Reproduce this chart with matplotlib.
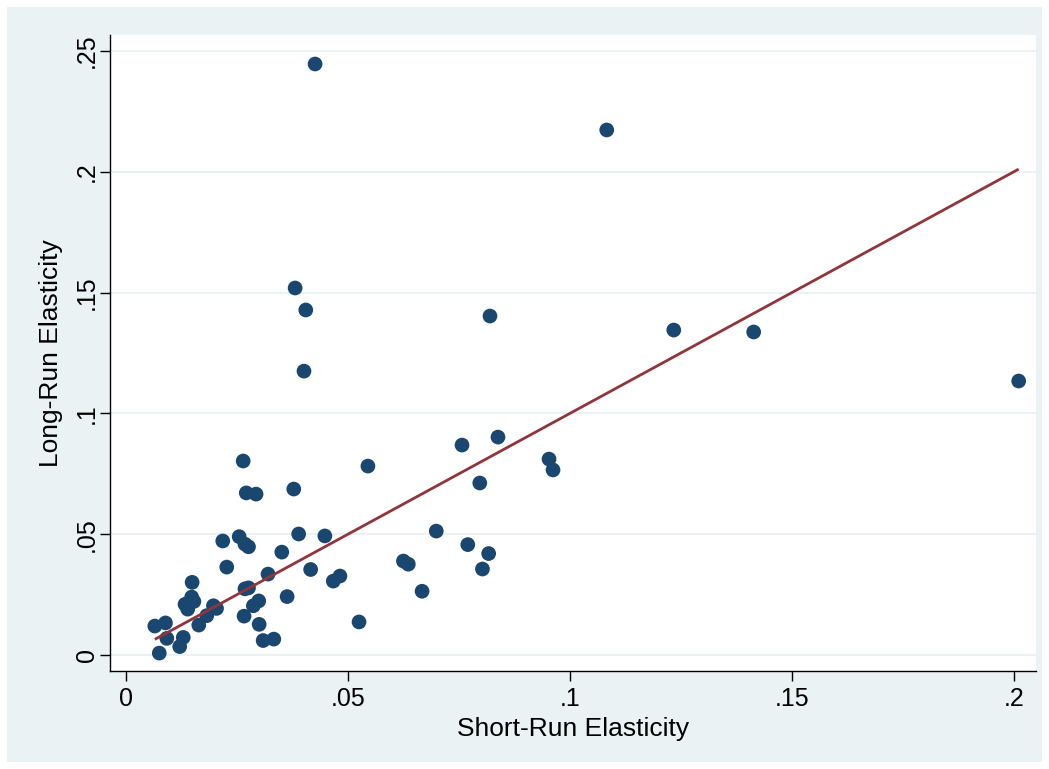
import numpy as np
import matplotlib
matplotlib.use("Agg")
import matplotlib.pyplot as plt
from matplotlib.patches import Rectangle

# Data
short_run = [0.0426, 0.1083, 0.0381, 0.0405, 0.0820, 0.1234, 0.1414, 0.0401, 0.2011,
             0.0838, 0.0757, 0.0953, 0.0962, 0.0264, 0.0545, 0.0797, 0.0378, 0.0271,
             0.0293, 0.0699, 0.0389, 0.0448, 0.0255, 0.0218, 0.0268, 0.0276, 0.0770,
             0.0817, 0.0351, 0.0625, 0.0636, 0.0227, 0.0416, 0.0803, 0.0320, 0.0482,
             0.0467, 0.0149, 0.0667, 0.0268, 0.0276, 0.0148, 0.0153, 0.0133, 0.0139,
             0.0363, 0.0299, 0.0287, 0.0197, 0.0204, 0.0182, 0.0164, 0.0266, 0.0065,
             0.0089, 0.0525, 0.0300, 0.0092, 0.0129, 0.0309, 0.0333, 0.0121, 0.0075]
long_run = [0.2446, 0.2173, 0.1519, 0.1428, 0.1403, 0.1345, 0.1337, 0.1175, 0.1134,
            0.0902, 0.0869, 0.0811, 0.0766, 0.0803, 0.0782, 0.0712, 0.0687, 0.0671,
            0.0666, 0.0513, 0.0501, 0.0493, 0.0490, 0.0472, 0.0459, 0.0448, 0.0457,
            0.0420, 0.0426, 0.0389, 0.0376, 0.0364, 0.0354, 0.0356, 0.0335, 0.0327,
            0.0306, 0.0301, 0.0264, 0.0274, 0.0278, 0.0240, 0.0222, 0.0210, 0.0190,
            0.0242, 0.0224, 0.0204, 0.0204, 0.0193, 0.0163, 0.0124, 0.0161, 0.0120,
            0.0133, 0.0137, 0.0127, 0.0069, 0.0073, 0.0060, 0.0066, 0.0035, 0.0008]

# reference line (y = x over the range of short-run values)
line_intercept = 0.0
line_slope = 1.0

x_ticks = [0, 0.05, 0.1, 0.15, 0.2]
x_tick_labels = ["0", ".05", ".1", ".15", ".2"]
y_ticks = [0, 0.05, 0.1, 0.15, 0.2, 0.25]
y_tick_labels = ["0", ".05", ".1", ".15", ".2", ".25"]

NAVY = "#1A476F"
MAROON = "#90353B"
BG = "#EAF2F3"

plt.rcParams["font.family"] = ["Liberation Sans", "DejaVu Sans"]

W, H = 1049, 769
fig = plt.figure(figsize=(W / 100, H / 100), dpi=100, facecolor="white")
bg = Rectangle((7 / W, 7 / H), 1 - 14 / W, 1 - 14 / H,
               transform=fig.transFigure, facecolor=BG, edgecolor="none", zorder=-10)
fig.add_artist(bg)

ax = fig.add_axes([110 / W, 1 - 671 / H, (1036 - 110) / W, (671 - 35) / H])
ax.set_zorder(5)
ax.set_facecolor("white")

xs = np.array(short_run)
ys = np.array(long_run)
ax.scatter(xs, ys, s=112, color=NAVY, edgecolors="none", zorder=3)

xl = np.array([xs.min(), xs.max()])
ax.plot(xl, line_intercept + line_slope * xl, color=MAROON, lw=2.0, zorder=4,
        solid_capstyle="butt")

ax.set_xlim(-0.0036, 0.2050)
ax.set_ylim(-0.0066, 0.2566)
ax.set_xticks(x_ticks)
ax.set_xticklabels(x_tick_labels)
ax.set_yticks(y_ticks)
ax.set_yticklabels(y_tick_labels, rotation=90, va="center")
ax.grid(axis="y", color=BG, lw=1.5, zorder=1)
ax.set_axisbelow(True)
for s in ["top", "right"]:
    ax.spines[s].set_visible(False)
for s in ["left", "bottom"]:
    ax.spines[s].set_color("black")
    ax.spines[s].set_linewidth(1.0)
ax.tick_params(axis="both", direction="out", length=7.2, width=1, color="black",
               labelsize=18)
ax.tick_params(axis="x", pad=4)
ax.tick_params(axis="y", pad=1)

fig.text(573 / W, 1 - 729 / H, "Short-Run Elasticity", fontsize=19,
         ha="center", va="center")
fig.text(51 / W, 1 - 353 / H, "Long-Run Elasticity", fontsize=19,
         ha="center", va="center", rotation=90)

fig.savefig("out.png", dpi=100, facecolor="white")
